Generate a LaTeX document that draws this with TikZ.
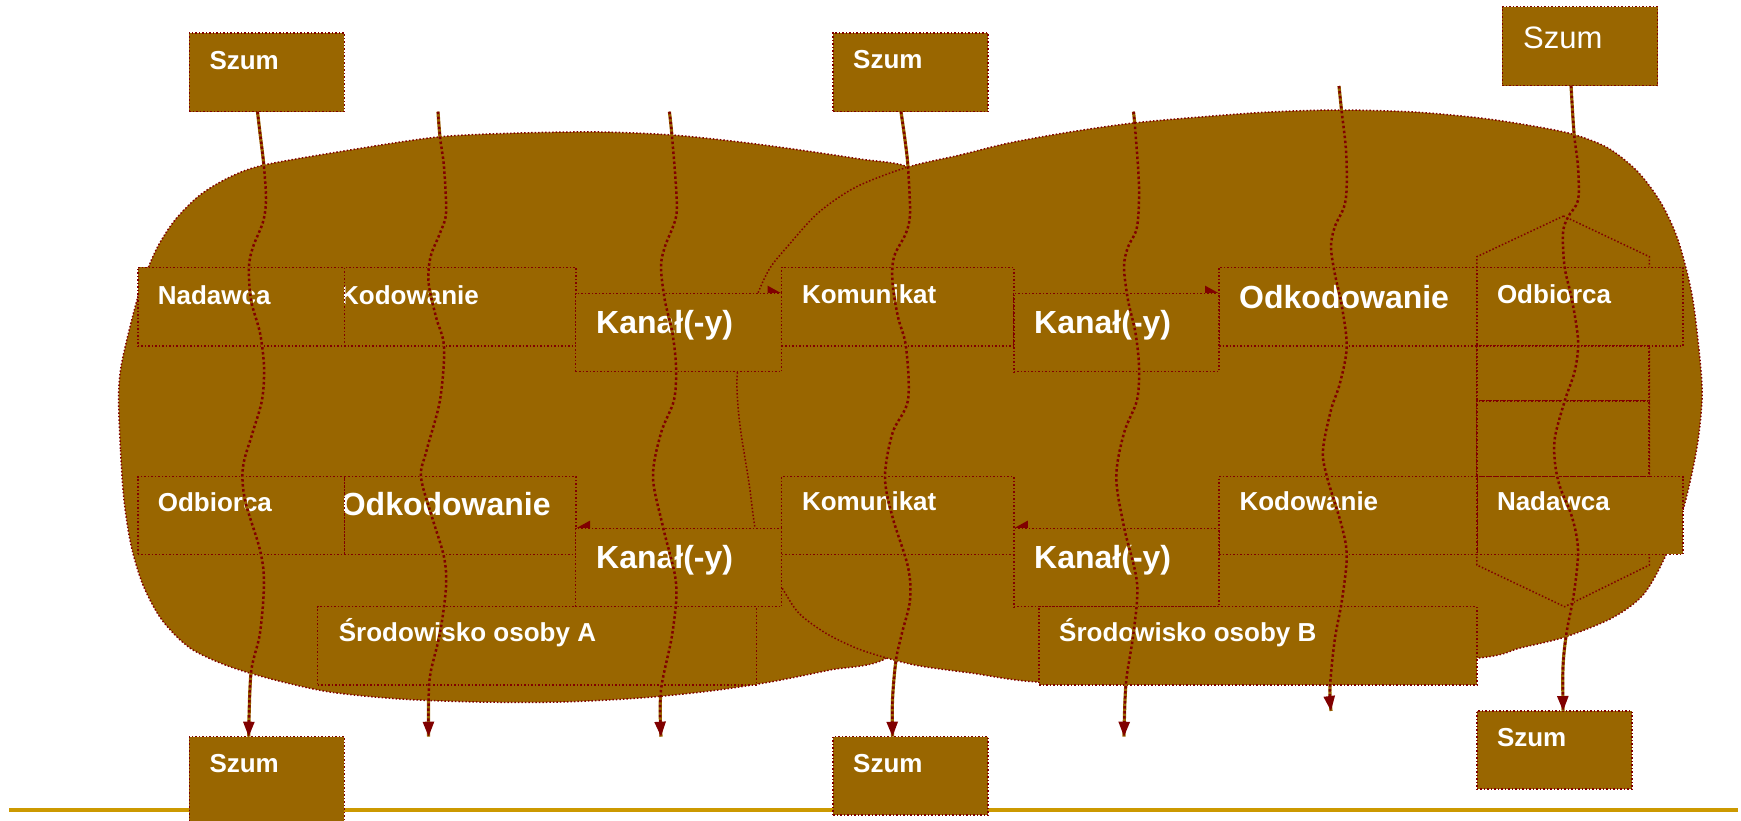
\documentclass[tikz,border=0pt]{standalone}
\usepackage{fontspec}
\setmainfont{Liberation Sans}
\usetikzlibrary{arrows.meta}
\definecolor{brn}{HTML}{996600}
\definecolor{dred}{HTML}{800000}
\definecolor{goldline}{HTML}{CC9900}
\begin{document}
\begin{tikzpicture}[x=1pt,y=-1pt,
  box/.style={draw=dred, fill=brn, line width=1.5pt, dash pattern=on 1.5pt off 2pt, rectangle, inner sep=0pt, outer sep=0pt, anchor=north west},
  lbl/.style={text=white, font=\bfseries\fontsize{26}{30}\selectfont, anchor=base west, inner sep=0pt},
  biglbl/.style={lbl, font=\bfseries\fontsize{32}{36}\selectfont},
  reglbl/.style={lbl, font=\fontsize{31}{36}\selectfont},
  blob/.style={draw=dred, fill=brn, line width=1.5pt, dash pattern=on 1.5pt off 2pt},
  noise/.style={draw=dred, line width=2.5pt, dash pattern=on 2.5pt off 2.5pt,
     -{Triangle[length=15pt,width=11pt]},
     preaction={draw=brn, line width=3.2pt, solid, arrows=-}},
  flow/.style={draw=dred, line width=1.5pt, -{Triangle[length=14pt,width=15pt]}}
]
\useasboundingbox (0,0) rectangle (1741,820);
\clip (0,0) rectangle (1741,820);

% gold line
\draw[goldline, line width=4pt] (9,810) -- (1738,810);

% left blob
\path[blob] plot[smooth cycle, tension=0.5] coordinates {
 (118.6,400) (120.5,450) (124,500) (131,545) (143,585) (162,620) (190,648)
 (228,666) (275,680) (330,692) (400,699) (480,702) (560,702) (640,698)
 (710,691) (770,682) (830,670) (886.7,658)
 (950,600) (985,450) (975,280) (940,195)
 (908,167) (860,159) (800,150) (740,142) (672,135) (600,132) (520,133)
 (438,137) (350,150) (264,165) (230,177) (200,195) (175,220) (156,250)
 (140,290) (128,335) (120.5,370)};

% right blob
\path[blob] plot[smooth cycle, tension=0.5] coordinates {
 (908,167) (960,155) (1009,143) (1070,132) (1133.5,123) (1200,117) (1270,112)
 (1338,110) (1414,112) (1480,118) (1527,125) (1572,134) (1608,148) (1638,172)
 (1661,203) (1678,240) (1692,295) (1700,360) (1702,400) (1696.5,450)
 (1683,510) (1665,557) (1643,595) (1612,618) (1565,637) (1520,648) (1478,658)
 (1300,670) (1150,680) (1039,682) (970.9,673) (920,666) (886.7,658) (856,648)
 (825.5,633) (798.7,613) (781.5,587) (762,555) (755,528) (749,483) (741,433)
 (737.5,400) (737.5,372) (745,330) (758,293) (770,268) (787,247) (818,213)
 (856,187)};

% boxes that the flow arrows need
\node[box, minimum width=231.6pt, minimum height=78.7pt] (kodL) at (344.4,267.3) {};
\node[lbl] (tkodL) at (340,304) {Kodowanie};
\node[box, minimum width=206.6pt, minimum height=78.7pt] (nadL) at (137.8,267.3) {};
\node[lbl] (tnadL) at (157.6,304) {Nadawca};
\node[box, minimum width=232.3pt, minimum height=78.7pt] (komTL) at (781.5,267.3) {};
\node[lbl] (tkomTL) at (801.8,303) {Komunikat};
\node[box, minimum width=257.8pt, minimum height=78.7pt] (odkTR) at (1219,267.3) {};
\node[biglbl] (todkTR) at (1239,308) {Odkodowanie};

% hexagon on the right
\draw[blob] (1563.5,216) -- (1649.4,256.7) -- (1649.4,565) -- (1564.6,606.7)
  -- (1476.8,565) -- (1476.8,256.7) -- cycle;
\node[box, minimum width=206.2pt, minimum height=78.7pt] (odbR) at (1476.8,267.3) {};
\node[lbl] (todbR) at (1496.8,303) {Odbiorca};
\node[box, minimum width=172.2pt, minimum height=55pt] (mid1) at (1476.8,346) {};
\node[box, minimum width=172.2pt, minimum height=75.7pt] (mid2) at (1476.8,401) {};
\node[box, minimum width=206.2pt, minimum height=77.6pt] (nadR) at (1476.8,476.7) {};
\node[lbl] (tnadR) at (1496.8,510) {Nadawca};
\node[box, minimum width=257.8pt, minimum height=77.6pt] (kodR) at (1219,476.7) {};
\node[lbl] (tkodR) at (1239.3,510) {Kodowanie};
\node[box, minimum width=232.3pt, minimum height=77.6pt] (komBL) at (781.5,476.7) {};
\node[lbl] (tkomBL) at (801.8,510) {Komunikat};
\node[box, minimum width=231.6pt, minimum height=77.6pt] (odkBL) at (344.4,476.7) {};
\node[biglbl] (todkBL) at (340.6,515) {Odkodowanie};
\node[box, minimum width=206.6pt, minimum height=77.6pt] (odbL) at (137.8,476.7) {};
\node[lbl] (todbL) at (157.6,511.6) {Odbiorca};

% flow arrows (half hidden by the channel boxes)
\draw[flow] (kodL.east |- 0,293.3) -- (komTL.west |- 0,293.3);
\draw[flow] (komTL.east |- 0,293.3) -- (odkTR.west |- 0,293.3);
\draw[flow] (kodR.west |- 0,528.3) -- (komBL.east |- 0,528.3);
\draw[flow] (komBL.west |- 0,528.3) -- (odkBL.east |- 0,528.3);

% channel boxes
\node[box, minimum width=205.9pt, minimum height=78.4pt] (kanTL) at (575.6,293.3) {};
\node[biglbl] (tkanTL) at (596,333) {Kanał(-y)};
\node[box, minimum width=205.2pt, minimum height=78.4pt] (kanTR) at (1013.8,293.3) {};
\node[biglbl] (tkanTR) at (1034,333) {Kanał(-y)};
\node[box, minimum width=205.2pt, minimum height=78.4pt] (kanBR) at (1013.8,528.3) {};
\node[biglbl] (tkanBR) at (1034,568) {Kanał(-y)};
\node[box, minimum width=205.9pt, minimum height=78.4pt] (kanBL) at (575.6,528.3) {};
\node[biglbl] (tkanBL) at (596,568) {Kanał(-y)};

% environments
\node[box, minimum width=439pt, minimum height=78.3pt] (srA) at (317.6,606.7) {};
\node[lbl] (tsrA) at (338.7,641.7) {Środowisko osoby A};
\node[box, minimum width=437.8pt, minimum height=78.3pt] (srB) at (1039,606.7) {};
\node[lbl] (tsrB) at (1059,641.7) {Środowisko osoby B};

% noise boxes
\node[box, minimum width=155pt, minimum height=78.7pt] (szTL) at (189.4,33) {};
\node[lbl] (tszTL) at (209.3,69) {Szum};
\node[box, minimum width=155pt, minimum height=78.7pt] (szTM) at (833,33) {};
\node[lbl] (tszTM) at (853,68) {Szum};
\node[box, minimum width=155.3pt, minimum height=79pt] (szTR) at (1502.4,6.7) {};
\node[reglbl] (tszTR) at (1523,48) {Szum};
\node[box, minimum width=155pt, minimum height=100pt] (szBL) at (189.4,736.7) {};
\node[lbl] (tszBL) at (209.3,772.7) {Szum};
\node[box, minimum width=155pt, minimum height=78.3pt] (szBM) at (833,736.7) {};
\node[lbl] (tszBM) at (853,772.7) {Szum};
\node[box, minimum width=155pt, minimum height=78pt] (szBR) at (1476.8,711) {};
\node[lbl] (tszBR) at (1496.8,746.7) {Szum};

% noise line end points
\coordinate (w1s) at ([xshift=-9.4pt]szTL.south);
\coordinate (w1e) at ([xshift=-18.2pt]szBL.north);
\coordinate (w2s) at (438,111.7);
\coordinate (w2e) at (428.6,736.7);
\coordinate (w3s) at (669.4,111.7);
\coordinate (w3e) at (661,736.7);
\coordinate (w4s) at ([xshift=-9.5pt]szTM.south);
\coordinate (w4e) at ([xshift=-18pt]szBM.north);
\coordinate (w5s) at (1133.5,111.7);
\coordinate (w5e) at (1124,736.7);
\coordinate (w6s) at (1339,86);
\coordinate (w6e) at (1331,711);
\coordinate (w7s) at ([xshift=-9pt]szTR.south);
\coordinate (w7e) at ([xshift=8.8pt]szBR.north);

% wavy noise lines
\draw[noise] plot[smooth, tension=0.55] coordinates {(w1s) (260,133) (264,167) (266,200) (263,222) (253,247) (249,267) (251,300) (260,333) (264,367) (262,400) (252.5,433) (243,467) (245,500) (260,550) (264,583) (260,633) (251,673) (w1e)};
\draw[noise] plot[smooth, tension=0.55] coordinates {(w2s) (440,137) (444,167) (446,213) (440,233) (430.5,257) (428.6,283) (436,317) (444,347) (440,400) (426.7,450) (421,477) (432,517) (444,557) (446,587) (440,633) (430.5,673) (428.6,700) (w2e)};
\draw[noise] plot[smooth, tension=0.55] coordinates {(w3s) (671.7,133) (676,187) (676,217) (664.8,247) (661,267) (664.8,300) (672.4,333) (676,367) (674,400) (661,433) (653,477) (663,527) (676,583) (672.4,633) (661,690) (w3e)};
\draw[noise] plot[smooth, tension=0.55] coordinates {(w4s) (905,140) (908,167) (910,213) (906,233) (894,257) (892.5,283) (898,317) (906,347) (908,400) (892.5,433) (885,477) (892.5,517) (908,567) (910,600) (902,633) (896,660) (892.5,700) (w4e)};
\draw[noise] plot[smooth, tension=0.55] coordinates {(w5s) (1135.5,133) (1139,187) (1137,227) (1128,247) (1124,267) (1128,300) (1135.5,333) (1139,367) (1137,400) (1124,433) (1116.3,477) (1124,527) (1137,583) (1133.5,633) (1126,683) (w5e)};
\draw[noise] plot[smooth, tension=0.55] coordinates {(w6s) (1341.5,110) (1346,150) (1346.7,187) (1344,207) (1334.7,227) (1331,247) (1334.7,273) (1342,307) (1346.7,347) (1340,383) (1331,410) (1323,450) (1327,477) (1342,527) (1346.7,557) (1342,600) (1334.7,640) (1330,687) (w6e)};
\draw[noise] plot[smooth, tension=0.55] coordinates {(w7s) (1574,133) (1578,167) (1578,200) (1568,217) (1563,233) (1564.6,267) (1572,300) (1578,340) (1575,370) (1565,400) (1555,437) (1555,463) (1560,487) (1572,517) (1578,550) (1574,593) (1566.5,633) (1563,667) (w7e)};
\end{tikzpicture}
\end{document}
